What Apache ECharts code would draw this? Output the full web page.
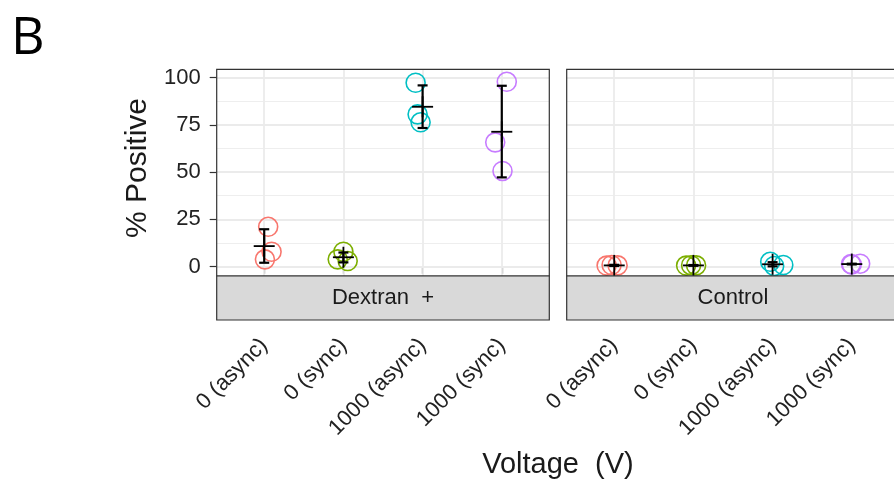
<!DOCTYPE html>
<html>
<head>
<meta charset="utf-8">
<script src="https://cdn.jsdelivr.net/npm/echarts@6/dist/echarts.min.js"></script>
<style>
html,body{margin:0;padding:0;background:#fff;}
#chart{width:894px;height:482px;}
</style>
</head>
<body>
<div id="chart"></div>
<script>
// ---- data ----
const categories = ['0 (async)', '0 (sync)', '1000 (async)', '1000 (sync)'];
const panelNames = ['Dextran  +', 'Control'];
const yTicks = [0, 25, 50, 75, 100];
const yMinor = [12.5, 37.5, 62.5, 87.5];

const dextranValues = [[21.1, 7.9, 3.9], [7.9, 3.0, 3.9], [97.2, 80.5, 76.3], [97.7, 65.7, 50.6]];
const dextranJitter = [[0.05, 0.093, 0.009], [0, 0.054, -0.072], [-0.088, -0.063, -0.025], [0.063, -0.083, 0.009]];
const dextranMean = [10.9, 5.0, 84.5, 71.3];
const dextranLow = [2.1, 2.3, 73.3, 47.2];
const dextranHigh = [19.8, 7.5, 95.8, 95.6];

const controlValues = [[0.6, 0.9, 0.7], [0.6, 0.8, 0.7], [2.6, 0.4, 0.9], [1.2, 1.6, 1.4]];
const controlJitter = [[-0.096, -0.033, 0.043], [-0.092, -0.029, 0.034], [-0.03, 0.02, 0.135], [0, 0.106, -0.01]];
const controlMean = [0.7, 0.7, 1.3, 1.4];
const controlLow = [0.4, 0.5, 0.2, 1.2];
const controlHigh = [1.0, 0.9, 2.4, 1.6];

// ---- layout / style ----
const colors = ['#F8766D', '#7CAE00', '#00BFC4', '#C77CFF'];
const FONT = '"Liberation Sans", Arial, Helvetica, sans-serif';
const panelTop = 69.3, panelH = 206.7, panelW = 332.6;
const panelLefts = [216.7, 566.7];
const stripH = 44;

const panels = [
  {values: dextranValues, jitter: dextranJitter, mean: dextranMean, low: dextranLow, high: dextranHigh},
  {values: controlValues, jitter: controlJitter, mean: controlMean, low: controlLow, high: controlHigh}
];

function renderErr(params, api) {
  const x = api.value(0), m = api.value(1), lo = api.value(2), hi = api.value(3);
  const pm = api.coord([x, m]);
  const pl = api.coord([x, lo]);
  const ph = api.coord([x, hi]);
  const cap = 5, plus = 10.5;
  const st = {stroke: '#000', lineWidth: 2.2, lineCap: 'butt'};
  const st2 = {stroke: '#000', lineWidth: 1.8, lineCap: 'butt'};
  return {
    type: 'group',
    children: [
      {type: 'line', shape: {x1: pl[0], y1: pl[1], x2: ph[0], y2: ph[1]}, style: st},
      {type: 'line', shape: {x1: ph[0] - cap, y1: ph[1], x2: ph[0] + cap, y2: ph[1]}, style: st},
      {type: 'line', shape: {x1: pl[0] - cap, y1: pl[1], x2: pl[0] + cap, y2: pl[1]}, style: st},
      {type: 'line', shape: {x1: pm[0] - plus, y1: pm[1], x2: pm[0] + plus, y2: pm[1]}, style: st2},
      {type: 'line', shape: {x1: pm[0], y1: pm[1] - plus, x2: pm[0], y2: pm[1] + plus}, style: st2}
    ]
  };
}

const grids = [], xAxes = [], yAxes = [], series = [], graphics = [];

panels.forEach((p, pi) => {
  grids.push({left: panelLefts[pi], top: panelTop, width: panelW, height: panelH,
    show: true, backgroundColor: '#fff', borderWidth: 0, outerBoundsMode: 'none', containLabel: false});
  xAxes.push({
    type: 'value', gridIndex: pi, min: 0.4, max: 4.6, offset: stripH,
    axisLine: {show: false},
    splitLine: {show: false},
    axisTick: {show: true, customValues: [1, 2, 3, 4], length: 7, lineStyle: {color: '#333', width: 1.2}},
    axisLabel: {
      show: true, customValues: [1, 2, 3, 4],
      formatter: v => categories[Math.round(v) - 1],
      rotate: 45, margin: 22, padding: [40, 0, 0, 0],
      fontSize: 22, color: '#222', fontFamily: FONT
    }
  });
  yAxes.push({
    type: 'value', gridIndex: pi, min: -4.9, max: 104.3,
    axisLine: {show: false},
    splitLine: {show: false},
    axisTick: {show: pi === 0, customValues: yTicks, length: 7, lineStyle: {color: '#333', width: 1.2}},
    axisLabel: {show: pi === 0, customValues: yTicks, margin: 16, fontSize: 22, color: '#222', fontFamily: FONT}
  });

  // grid lines
  const ml = [];
  yTicks.forEach(v => ml.push({yAxis: v, lineStyle: {color: '#EBEBEB', width: 1.8, type: 'solid'}}));
  yMinor.forEach(v => ml.push({yAxis: v, lineStyle: {color: '#EEEEEE', width: 1, type: 'solid'}}));
  categories.forEach((c, i) => ml.push({xAxis: i + 1, lineStyle: {color: '#EBEBEB', width: 1.8, type: 'solid'}}));
  series.push({
    type: 'line', xAxisIndex: pi, yAxisIndex: pi, data: [], z: 1, silent: true,
    markLine: {z: 1, silent: true, symbol: ['none', 'none'], label: {show: false}, animation: false, data: ml}
  });

  // points
  p.values.forEach((vals, g) => {
    series.push({
      type: 'scatter', xAxisIndex: pi, yAxisIndex: pi, z: 3, silent: true,
      symbol: 'circle', symbolSize: 19,
      itemStyle: {color: 'rgba(0,0,0,0)', borderColor: colors[g], borderWidth: 1.6, opacity: 1},
      data: vals.map((v, i) => [g + 1 + p.jitter[g][i], v])
    });
  });

  // mean + sd error bars
  series.push({
    type: 'custom', xAxisIndex: pi, yAxisIndex: pi, z: 6, silent: true,
    renderItem: renderErr,
    encode: {x: 0, y: 1},
    data: p.mean.map((m, g) => [g + 1, m, p.low[g], p.high[g]])
  });

  // panel border
  graphics.push({type: 'rect', z: 100, silent: true,
    shape: {x: panelLefts[pi], y: panelTop, width: panelW, height: panelH},
    style: {fill: 'none', stroke: '#333', lineWidth: 1.2}});
  // strip
  graphics.push({type: 'rect', z: 100, silent: true,
    shape: {x: panelLefts[pi], y: panelTop + panelH, width: panelW, height: stripH},
    style: {fill: '#D9D9D9', stroke: '#333', lineWidth: 1.2}});
  graphics.push({type: 'text', z: 101, silent: true,
    style: {text: panelNames[pi], x: panelLefts[pi] + panelW / 2, y: panelTop + panelH + stripH / 2,
      textAlign: 'center', textVerticalAlign: 'middle', font: '22px ' + FONT, fill: '#1A1A1A'}});
});

graphics.push({type: 'text', z: 101, silent: true,
  style: {text: 'B', x: 11, y: 13, textAlign: 'left', textVerticalAlign: 'top', font: '52px "Open Sans", sans-serif', fill: '#000'}});
graphics.push({type: 'text', z: 101, silent: true, x: 138, y: 168, rotation: Math.PI / 2,
  style: {text: '% Positive', x: 0, y: 0, textAlign: 'center', textVerticalAlign: 'middle', font: '30px ' + FONT, fill: '#1A1A1A'}});
graphics.push({type: 'text', z: 101, silent: true,
  style: {text: 'Voltage  (V)', x: 558, y: 465, textAlign: 'center', textVerticalAlign: 'middle', font: '29px ' + FONT, fill: '#1A1A1A'}});

const chart = echarts.init(document.getElementById('chart'), null, {renderer: 'canvas'});
chart.setOption({
  animation: false,
  backgroundColor: '#fff',
  grid: grids,
  xAxis: xAxes,
  yAxis: yAxes,
  series: series,
  graphic: graphics
});
</script>
</body>
</html>
